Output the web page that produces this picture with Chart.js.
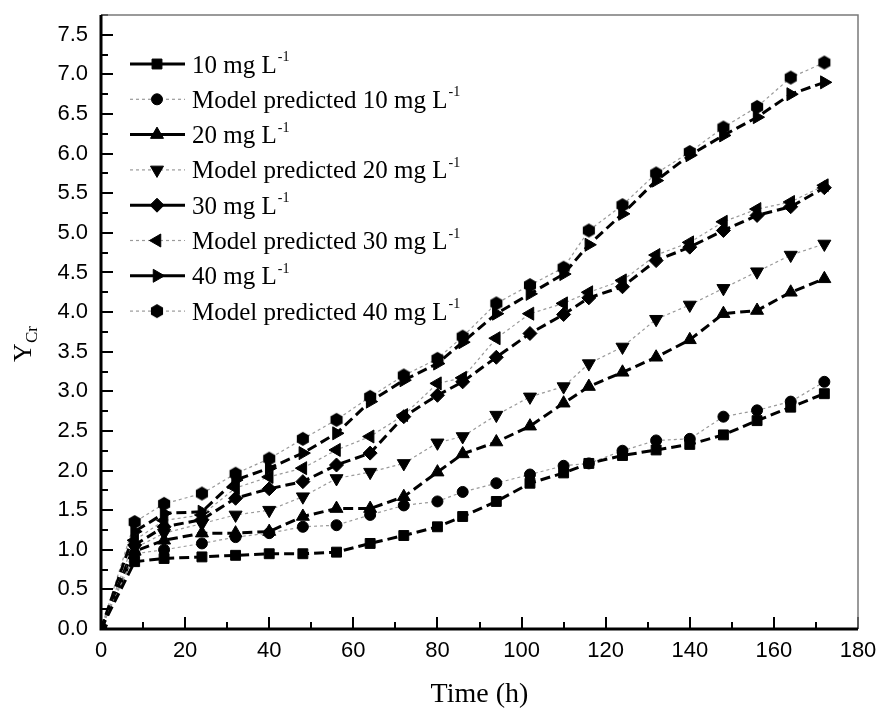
<!DOCTYPE html>
<html>
<head>
<meta charset="utf-8">
<title>Y Cr vs time</title>
<script src="https://cdn.jsdelivr.net/npm/chart.js@4.4.1/dist/chart.umd.min.js"></script>
<style>
    html, body { margin: 0; padding: 0; background: #fff; }
    #wrap { width: 881px; height: 713px; position: relative; }
</style>
</head>
<body>
<div id="wrap"><canvas id="ycrChart"></canvas></div>
<script>
// Sampling times (h)
const times = [0, 8, 15, 24, 32, 40, 48, 56, 64, 72, 80, 86, 94, 102, 110, 116, 124, 132, 140, 148, 156, 164, 172];

// Experimental and model values of Y_Cr
const exp10   = [0, 0.85, 0.89, 0.91, 0.93, 0.95, 0.95, 0.97, 1.08, 1.18, 1.29, 1.42, 1.61, 1.84, 1.97, 2.09, 2.19, 2.26, 2.33, 2.45, 2.63, 2.80, 2.97];
const model10 = [0, 0.95, 1.00, 1.08, 1.16, 1.21, 1.29, 1.31, 1.44, 1.56, 1.61, 1.73, 1.84, 1.95, 2.06, 2.09, 2.25, 2.38, 2.40, 2.68, 2.76, 2.87, 3.12];
const exp20   = [0, 0.98, 1.12, 1.21, 1.21, 1.23, 1.42, 1.52, 1.52, 1.67, 1.98, 2.21, 2.36, 2.56, 2.85, 3.06, 3.24, 3.43, 3.65, 3.98, 4.02, 4.25, 4.42];
const model20 = [0, 1.02, 1.21, 1.33, 1.44, 1.50, 1.67, 1.90, 1.98, 2.09, 2.35, 2.43, 2.70, 2.93, 3.06, 3.35, 3.56, 3.91, 4.09, 4.30, 4.51, 4.72, 4.86];
const exp30   = [0, 1.06, 1.29, 1.38, 1.65, 1.77, 1.86, 2.07, 2.22, 2.68, 2.95, 3.12, 3.43, 3.73, 3.97, 4.18, 4.32, 4.65, 4.82, 5.03, 5.22, 5.33, 5.57];
const model30 = [0, 1.12, 1.37, 1.44, 1.78, 1.92, 2.03, 2.26, 2.43, 2.70, 3.10, 3.17, 3.67, 3.98, 4.11, 4.25, 4.40, 4.72, 4.88, 5.14, 5.30, 5.39, 5.60];
const exp40   = [0, 1.23, 1.46, 1.48, 1.88, 2.03, 2.22, 2.47, 2.87, 3.14, 3.35, 3.62, 3.98, 4.23, 4.48, 4.85, 5.24, 5.66, 5.98, 6.23, 6.46, 6.75, 6.90];
const model40 = [0, 1.35, 1.58, 1.71, 1.96, 2.15, 2.40, 2.64, 2.93, 3.20, 3.41, 3.69, 4.11, 4.34, 4.56, 5.03, 5.35, 5.75, 6.02, 6.33, 6.59, 6.96, 7.15];

// Legend texts (the "-1" is drawn as a superscript)
const seriesLabels = [
    '10 mg L', 'Model predicted 10 mg L',
    '20 mg L', 'Model predicted 20 mg L',
    '30 mg L', 'Model predicted 30 mg L',
    '40 mg L', 'Model predicted 40 mg L'
];

// Axis ticks
const xTickStep = 10;   // labels every 20
const yTickStep = 0.25; // labels every 0.5

const serif = '"Liberation Serif", "Times New Roman", serif';

// hexagon marker for the 40 mg model series
function makeHexagon(r) {
    const c = document.createElement('canvas');
    const s = Math.ceil(r * 2 + 2);
    c.width = s; c.height = s;
    const g = c.getContext('2d');
    g.fillStyle = '#000';
    g.beginPath();
    for (let i = 0; i < 6; i++) {
        const a = Math.PI / 3 * i - Math.PI / 2;
        const px = s / 2 + r * Math.cos(a), py = s / 2 + r * Math.sin(a);
        if (i === 0) g.moveTo(px, py); else g.lineTo(px, py);
    }
    g.closePath();
    g.fill();
    return c;
}
const hexagon = makeHexagon(7);

function toPoints(values) {
    return values.map((v, i) => ({ x: times[i], y: v }));
}

function expSeries(label, values, style, radius, rotation) {
    return {
        label: label, data: toPoints(values),
        borderColor: '#000', borderWidth: 3, borderDash: [10, 5],
        pointStyle: style, pointRadius: radius, pointRotation: rotation || 0,
        pointBackgroundColor: '#000', pointBorderColor: '#000', pointBorderWidth: 1,
        tension: 0, fill: false
    };
}
function modelSeries(label, values, style, radius, rotation) {
    return {
        label: label, data: toPoints(values),
        borderColor: '#9a9a9a', borderWidth: 1.2, borderDash: [3, 3],
        pointStyle: style, pointRadius: radius, pointRotation: rotation || 0,
        pointBackgroundColor: '#000', pointBorderColor: '#000', pointBorderWidth: 1,
        tension: 0, fill: false
    };
}

const datasets = [
    expSeries(seriesLabels[0], exp10, 'rect', 7),
    modelSeries(seriesLabels[1], model10, 'circle', 5.5),
    expSeries(seriesLabels[2], exp20, 'triangle', 7.5),
    modelSeries(seriesLabels[3], model20, 'triangle', 7.5, 180),
    expSeries(seriesLabels[4], exp30, 'rectRot', 7),
    modelSeries(seriesLabels[5], model30, 'triangle', 7.5, 270),
    expSeries(seriesLabels[6], exp40, 'triangle', 7.5, 90),
    modelSeries(seriesLabels[7], model40, hexagon, 7)
];

function isMajor(v, every) {
    return Math.abs(v / every - Math.round(v / every)) < 1e-6;
}

// frame, inward ticks, legend inside the plot and the axis titles
const framePlugin = {
    id: 'framePlugin',
    afterDatasetsDraw(chart) {
        const ctx = chart.ctx;
        const a = chart.chartArea;
        const xs = chart.scales.x, ys = chart.scales.y;
        ctx.save();
        ctx.strokeStyle = '#000';
        ctx.lineWidth = 2;
        ys.ticks.forEach(t => {
            const py = Math.round(ys.getPixelForValue(t.value));
            const len = isMajor(t.value, 0.5) ? 12 : 7;
            ctx.beginPath(); ctx.moveTo(a.left, py); ctx.lineTo(a.left + len, py); ctx.stroke();
        });
        xs.ticks.forEach(t => {
            const px = Math.round(xs.getPixelForValue(t.value));
            const len = isMajor(t.value, 20) ? 12 : 7;
            ctx.beginPath(); ctx.moveTo(px, a.bottom); ctx.lineTo(px, a.bottom - len); ctx.stroke();
        });
        // top / right border
        ctx.strokeStyle = '#7a7a7a';
        ctx.lineWidth = 1.5;
        ctx.beginPath();
        ctx.moveTo(a.left, a.top); ctx.lineTo(a.right, a.top); ctx.lineTo(a.right, a.bottom);
        ctx.stroke();
        // left / bottom axes
        ctx.strokeStyle = '#000';
        ctx.lineWidth = 3;
        ctx.beginPath();
        ctx.moveTo(a.left, a.top); ctx.lineTo(a.left, a.bottom); ctx.lineTo(a.right, a.bottom);
        ctx.stroke();
        ctx.restore();
    },
    afterDraw(chart) {
        const ctx = chart.ctx;
        const a = chart.chartArea;
        ctx.save();
        // legend
        chart.data.datasets.forEach((ds, i) => {
            const rowY = 64 + i * 35.3;
            ctx.save();
            ctx.strokeStyle = ds.borderColor;
            ctx.lineWidth = ds.borderWidth;
            ctx.setLineDash(i % 2 === 0 ? [] : [3, 3]);
            ctx.beginPath(); ctx.moveTo(130, rowY); ctx.lineTo(185, rowY); ctx.stroke();
            ctx.restore();
            ctx.fillStyle = '#000'; ctx.strokeStyle = '#000'; ctx.lineWidth = 1;
            Chart.helpers.drawPoint(ctx, {
                pointStyle: ds.pointStyle, radius: ds.pointRadius,
                rotation: ds.pointRotation, borderWidth: 1
            }, 157, rowY);
            ctx.fillStyle = '#000';
            ctx.textAlign = 'left';
            ctx.textBaseline = 'alphabetic';
            ctx.font = '25px ' + serif;
            ctx.fillText(ds.label, 192, rowY + 8.5);
            const w = ctx.measureText(ds.label).width;
            ctx.font = '14px ' + serif;
            ctx.fillText('-1', 192 + w + 1, rowY - 3);
        });
        // x title
        ctx.textAlign = 'center';
        ctx.font = '28px ' + serif;
        ctx.fillText('Time (h)', (a.left + a.right) / 2, 702);
        // y title with subscript
        ctx.translate(31, 344);
        ctx.rotate(-Math.PI / 2);
        ctx.textAlign = 'left';
        ctx.font = '26px ' + serif;
        const wY = ctx.measureText('Y').width;
        ctx.font = '17px ' + serif;
        const wC = ctx.measureText('Cr').width;
        const x0 = -(wY + wC) / 2;
        ctx.font = '26px ' + serif;
        ctx.fillText('Y', x0, 0);
        ctx.font = '17px ' + serif;
        ctx.fillText('Cr', x0 + wY, 6);
        ctx.restore();
    }
};

document.addEventListener('DOMContentLoaded', function() {
    const ctx = document.getElementById('ycrChart').getContext('2d');
    new Chart(ctx, {
        type: 'line',
        data: { datasets: datasets },
        options: {
            responsive: true,
            maintainAspectRatio: false,
            animation: false,
            layout: { padding: { top: 15, right: 23, left: 0, bottom: 0 } },
            plugins: {
                legend: { display: false },
                tooltip: { enabled: false }
            },
            scales: {
                x: {
                    type: 'linear', min: 0, max: 180,
                    grid: { display: false, drawTicks: false },
                    border: { display: false },
                    ticks: {
                        stepSize: xTickStep, autoSkip: false, maxRotation: 0, padding: 9,
                        color: '#000',
                        font: { family: '"Liberation Sans", Arial, sans-serif', size: 22 },
                        callback: function(value) {
                            return isMajor(value, 20) ? String(value) : '';
                        }
                    },
                    afterFit: function(scale) {
                        scale.height = 84;
                        scale.paddingLeft = 0;
                        scale.paddingRight = 0;
                    }
                },
                y: {
                    type: 'linear', min: 0, max: 7.75,
                    grid: { display: false, drawTicks: false },
                    border: { display: false },
                    ticks: {
                        stepSize: yTickStep, autoSkip: false, padding: 13,
                        color: '#000',
                        font: { family: '"Liberation Sans", Arial, sans-serif', size: 22 },
                        callback: function(value) {
                            return isMajor(value, 0.5) ? value.toFixed(1) : '';
                        }
                    },
                    afterFit: function(scale) {
                        scale.width = 101;
                        scale.paddingTop = 0;
                        scale.paddingBottom = 0;
                    }
                }
            }
        },
        plugins: [framePlugin]
    });
});
</script>
</body>
</html>
